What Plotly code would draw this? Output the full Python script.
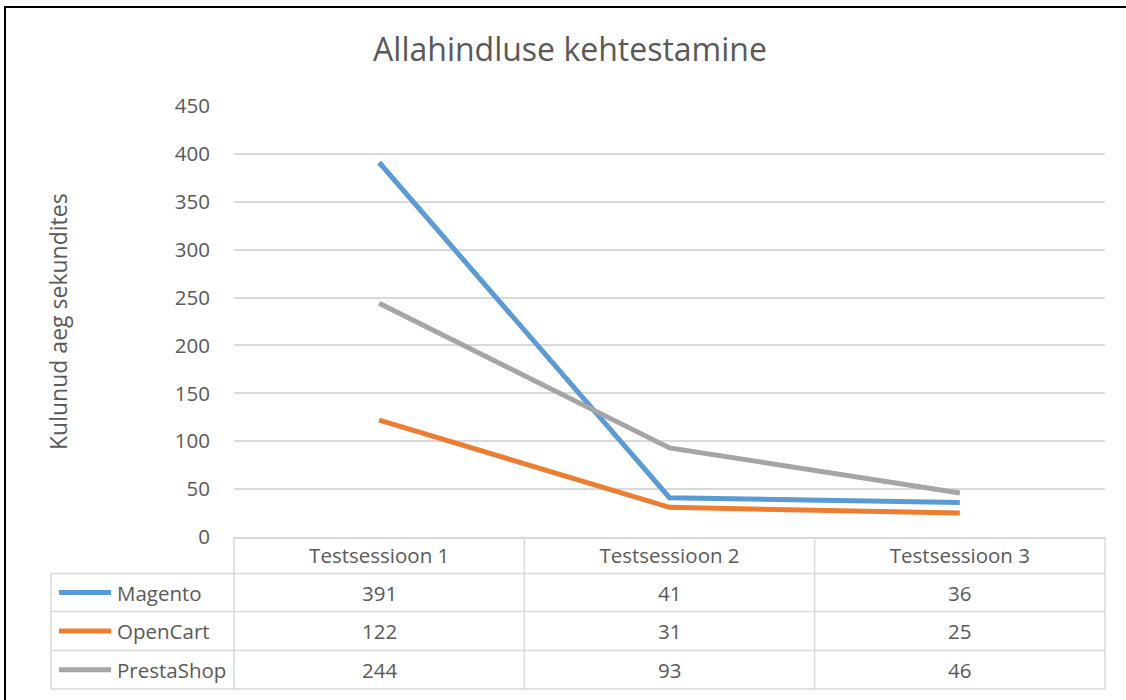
import plotly.graph_objects as go

categories = ["Testsessioon 1", "Testsessioon 2", "Testsessioon 3"]
series_names = ["Magento", "OpenCart", "PrestaShop"]
magento = [391, 41, 36]
opencart = [122, 31, 25]
prestashop = [244, 93, 46]
series_values = [magento, opencart, prestashop]
colors = ["#5B9BD5", "#ED7D31", "#A5A5A5"]
y_ticks = [0, 50, 100, 150, 200, 250, 300, 350, 400, 450]

W, H = 1126, 700
L, R, T, B = 234, 1105, 106, 537
FONT = "Open Sans"
TXT = "#595959"
GRID = "#D9D9D9"
FS = 20.5

def px(x):
    return (x - L) / (R - L)

def py(y):
    return (B - y) / (B - T)

fig = go.Figure()
for name, vals, c in zip(series_names, series_values, colors):
    fig.add_trace(go.Scatter(x=categories, y=vals, mode="lines", name=name,
                             line=dict(color=c, width=5), showlegend=False))

shapes = []
def line(x0, y0, x1, y1, color=GRID, width=1.5):
    shapes.append(dict(type="line", xref="paper", yref="paper",
                       x0=px(x0), y0=py(y0), x1=px(x1), y1=py(y1),
                       line=dict(color=color, width=width)))

# table grid
row_lines = [573.5, 611.5, 650.5, 689]
col_lines = [L, L + (R - L) / 3, L + 2 * (R - L) / 3, R]
for i, yv in enumerate(row_lines):
    line(51, yv, R, yv)
for xv in col_lines:
    line(xv, B, xv, row_lines[-1])
line(51, row_lines[0], 51, row_lines[-1])

annotations = []
col_centers = [L + (R - L) / 6 * (2 * k + 1) for k in range(3)]
for r, (name, vals, c) in enumerate(zip(series_names, series_values, colors)):
    ytop, ybot = row_lines[r], row_lines[r + 1]
    yc = (ytop + ybot) / 2
    shapes.append(dict(type="line", xref="paper", yref="paper",
                       x0=px(59), y0=py(yc), x1=px(111), y1=py(yc),
                       line=dict(color=c, width=5)))
    annotations.append(dict(xref="paper", yref="paper", x=px(115), y=py(yc),
                            text=name, showarrow=False, xanchor="left", yanchor="middle",
                            font=dict(family=FONT, size=FS, color=TXT)))
    for k, v in enumerate(vals):
        annotations.append(dict(xref="paper", yref="paper", x=px(col_centers[k]), y=py(yc),
                                text=str(v), showarrow=False, xanchor="center", yanchor="middle",
                                font=dict(family=FONT, size=FS, color=TXT)))

# outer border
shapes.append(dict(type="line", xref="paper", yref="paper", x0=px(5), y0=py(7), x1=px(5), y1=py(705),
                   line=dict(color="black", width=2)))
shapes.append(dict(type="line", xref="paper", yref="paper", x0=px(4), y0=py(7), x1=px(1130), y1=py(7),
                   line=dict(color="black", width=2)))

annotations.append(dict(xref="paper", yref="paper", x=px(58), y=py(322),
                        text="Kulunud aeg sekundites", textangle=-90, showarrow=False,
                        xanchor="center", yanchor="middle",
                        font=dict(family=FONT, size=23, color=TXT)))

fig.update_layout(
    width=W, height=H,
    margin=dict(l=L, r=W - R, t=T, b=H - B, pad=0),
    paper_bgcolor="white", plot_bgcolor="white",
    title=dict(text="Allahindluse kehtestamine", xref="container", x=570 / W, xanchor="center",
               yref="container", y=1 - 50 / H, yanchor="middle",
               font=dict(family=FONT, size=32, color=TXT)),
    shapes=shapes, annotations=annotations,
    xaxis=dict(type="category", range=[-0.5, 2.5], showgrid=False, showline=True,
               linecolor=GRID, linewidth=1.5, ticks="", ticklabelstandoff=0,
               tickfont=dict(family=FONT, size=FS, color=TXT), zeroline=False),
    yaxis=dict(range=[0, 450], tickvals=y_ticks, showgrid=True, gridcolor=GRID,
               gridwidth=1.5, zeroline=False, showline=False, ticks="",
               ticklabelstandoff=23,
               tickfont=dict(family=FONT, size=FS, color=TXT)),
)

fig.write_html("out.html", config={"displayModeBar": False},
               post_script="document.body.style.margin='0';document.body.style.overflow='hidden';")
